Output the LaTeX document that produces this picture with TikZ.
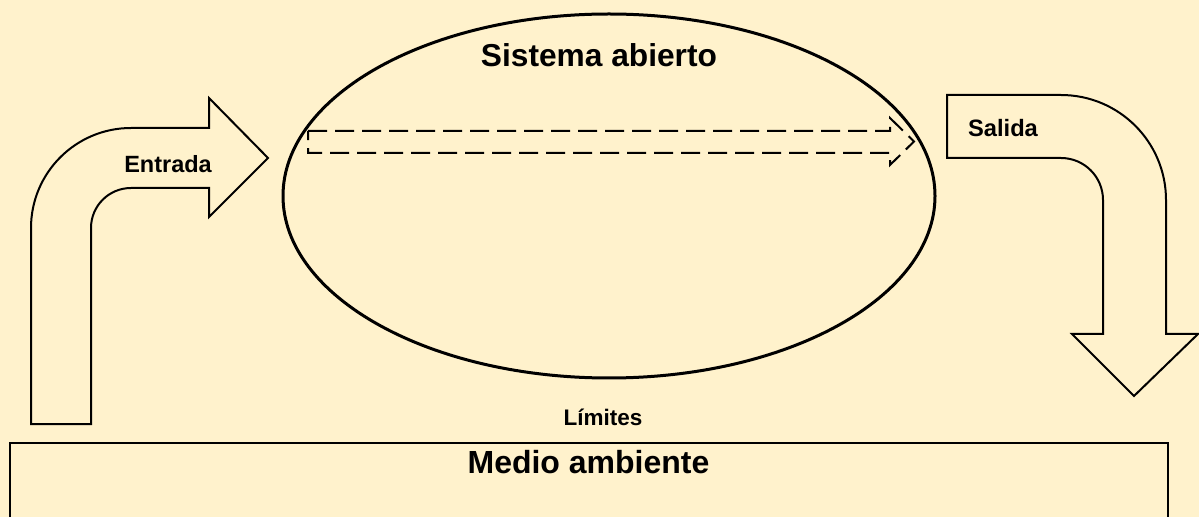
\documentclass[tikz,border=0pt]{standalone}
\usepackage{fontspec}
\setmainfont{Liberation Sans}
\definecolor{bgc}{HTML}{FFF2CC}
\begin{document}
\begin{tikzpicture}[x=1pt,y=1pt,
  blockarrow/.style={draw=black,line width=2pt,line join=miter,fill=bgc},
  lbl/.style={font=\bfseries,anchor=base,inner sep=0pt}]
\useasboundingbox[fill=bgc] (0,0) rectangle (1199,517);
% entrada
\draw[blockarrow] (31,93) -- (31,289) arc[start angle=180,end angle=90,radius=100]
  -- (209,389) -- (209,419) -- (268,359) -- (209,300) -- (209,329) -- (131,329)
  arc[start angle=90,end angle=180,radius=40] -- (91,93) -- cycle;
% salida
\draw[blockarrow] (947,422) -- (1061,422) arc[start angle=90,end angle=0,radius=105]
  -- (1166,183) -- (1198,183) -- (1134,121) -- (1072,183) -- (1103,183) -- (1103,317)
  arc[start angle=0,end angle=90,radius=42] -- (947,359) -- cycle;
% system
\draw[line width=3pt] (609,321) ellipse[x radius=326,y radius=182];
\draw[line width=2pt,dash pattern=on 19pt off 8pt] (308,386) -- (890,386) -- (890,399)
  -- (914,375.5) -- (890,352) -- (890,364) -- (308,364) -- cycle;
% environment
\draw[line width=2.2pt] (10,0) -- (10,74) -- (1168,74) -- (1168,0);
\node[lbl,font=\fontsize{31.7}{38}\selectfont\bfseries] (sis) at (599,450) {Sistema abierto};
\node[lbl,font=\fontsize{23.5}{28}\selectfont\bfseries] (ent) at (168,344) {Entrada};
\node[lbl,font=\fontsize{23.7}{28}\selectfont\bfseries] (sal) at (1003,380) {Salida};
\node[lbl,font=\fontsize{22.5}{26}\selectfont\bfseries] (lim) at (603,91.3) {Límites};
\node[lbl,font=\fontsize{32}{38}\selectfont\bfseries] (med) at (588.5,44) {Medio ambiente};
\end{tikzpicture}
\end{document}
